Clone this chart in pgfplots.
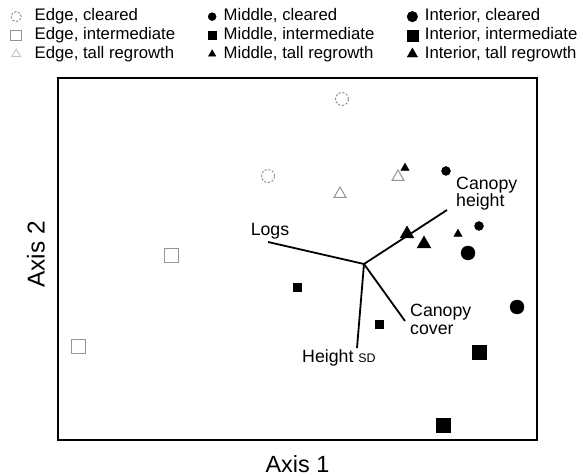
\documentclass[border=0pt]{standalone}
\usepackage{fontspec}
\setmainfont{Liberation Sans}
\usepackage{pgfplots}
\pgfplotsset{compat=1.18}
\definecolor{lgray}{gray}{0.58}
\begin{document}
\begin{tikzpicture}
\begin{axis}[
  scale only axis, width=479bp, height=362bp,
  xmin=0, xmax=479, ymin=0, ymax=362,
  xtick=\empty, ytick=\empty,
  axis line style={line width=1.3bp, black},
  clip=false,
  legend columns=3,
  legend cell align=left,
  legend image code/.code={\path[draw=none,fill=none] (-7.5bp,-5bp) (7.5bp,5bp); \draw[#1] plot coordinates {(0bp,0bp)};},
  legend style={at={(-0.1096,1.1997)}, anchor=north west, draw=none, fill=none,
    font=\fontsize{16.8}{18}\selectfont, row sep=1.2bp,
    /tikz/column 1/.style={column sep=10.5bp},
    /tikz/column 2/.style={column sep=29bp},
    /tikz/column 3/.style={column sep=3.5bp},
    /tikz/column 4/.style={column sep=30bp},
    /tikz/column 5/.style={column sep=4.5bp},
    nodes={inner sep=0.5bp, text height=12.5bp, text depth=4bp}},
]
% Row 1
\addplot[only marks, mark=*, mark size=6.5bp, mark options={draw=lgray, fill=white, line width=1bp, dash pattern=on 2.2bp off 1.6bp}, legend image post style={mark size=5bp}]
  coordinates {(284,341) (210,264)};
\addlegendentry{Edge, cleared}
\addplot[only marks, mark=*, mark size=4.5bp, mark options={draw=black, fill=black}, legend image post style={mark size=4bp}]
  coordinates {(388,269) (421,214)};
\addlegendentry{Middle, cleared}
\addplot[only marks, mark=*, mark size=7bp, mark options={draw=black, fill=black}, legend image post style={mark size=5.3bp}]
  coordinates {(410,187) (459,133)};
\addlegendentry{Interior, cleared}
% Row 2
\addplot[only marks, mark=square, mark size=7bp, mark options={draw=lgray, line width=1bp}, legend image post style={mark size=5.3bp}]
  coordinates {(113,184) (21,93)};
\addlegendentry{Edge, intermediate}
\addplot[only marks, mark=square*, mark size=4bp, mark options={draw=black, fill=black}, legend image post style={mark size=3.8bp}]
  coordinates {(239.5,153) (321.6,116)};
\addlegendentry{Middle, intermediate}
\addplot[only marks, mark=square*, mark size=7bp, mark options={draw=black, fill=black}, legend image post style={mark size=5.5bp}]
  coordinates {(421,88) (385,15)};
\addlegendentry{Interior, intermediate}
% Row 3
\addplot[only marks, mark=triangle, mark size=7bp, mark options={draw=lgray, line width=1bp}, legend image post style={mark size=5bp, mark options={draw=gray!50, line width=0.8bp}}]
  coordinates {(282,246) (340,263)};
\addlegendentry{Edge, tall regrowth}
\addplot[only marks, mark=triangle*, mark size=4.8bp, mark options={draw=black, fill=black}, legend image post style={mark size=4.3bp}]
  coordinates {(347,272) (400,206)};
\addlegendentry{Middle, tall regrowth}
\addplot[only marks, mark=triangle*, mark size=8bp, mark options={draw=black, fill=black}, legend image post style={mark size=6bp}]
  coordinates {(349,206) (366,196)};
\addlegendentry{Interior, tall regrowth}
% Vectors
\addplot[forget plot, black, line width=1.8bp] coordinates {(306,176) (210,198)};
\addplot[forget plot, black, line width=1.8bp] coordinates {(306,176) (389,230)};
\addplot[forget plot, black, line width=1.8bp] coordinates {(306,176) (299,92)};
\addplot[forget plot, black, line width=1.8bp] coordinates {(306,176) (347,119)};
% Labels
\tikzset{lab/.style={inner sep=0, font=\fontsize{17.8}{19}\selectfont}}
\node[lab, anchor=base] at (axis cs:212,204) {Logs};
\node[lab, anchor=base west] at (axis cs:398,250) {Canopy};
\node[lab, anchor=base west] at (axis cs:398,233) {height};
\node[lab, anchor=base west] at (axis cs:352,123.4) {Canopy};
\node[lab, anchor=base west] at (axis cs:352,105.5) {cover};
\node[lab, anchor=base west] at (axis cs:244,77) {Height {\fontsize{12.5}{14}\selectfont SD}};
\node[anchor=base, inner sep=0, font=\fontsize{23.5}{26}\selectfont] at (axis cs:239.5,-32) {Axis 1};
\node[anchor=center, inner sep=0, rotate=90, font=\fontsize{24.5}{26}\selectfont] at (axis cs:-22,185.5) {Axis 2};
\path (axis cs:-58,-36) rectangle (axis cs:525,440);
\end{axis}
\end{tikzpicture}
\end{document}
